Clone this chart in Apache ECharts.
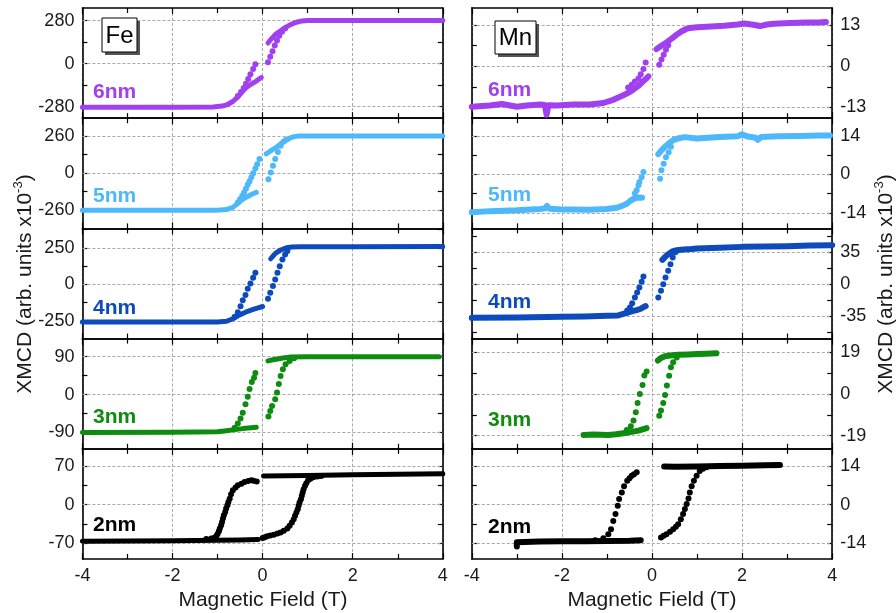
<!DOCTYPE html>
<html><head><meta charset="utf-8">
<script src="https://cdn.jsdelivr.net/npm/echarts@6/dist/echarts.min.js"></script>
<style>html,body{margin:0;padding:0;background:#fff}#c{width:896px;height:613px}</style>
</head><body><div id="c"></div>
<script>
// ---------- tick labels ----------
const xTicks = [-4, -2, 0, 2, 4];
const fe6Ticks = [-280, 0, 280], fe6Minor = [-140, 140];
const fe5Ticks = [-260, 0, 260], fe5Minor = [-130, 130];
const fe4Ticks = [-250, 0, 250], fe4Minor = [-125, 125, 375];
const fe3Ticks = [-90, 0, 90],   fe3Minor = [-45, 45];
const fe2Ticks = [-70, 0, 70],   fe2Minor = [-35, 35];
const mn6Ticks = [-13, 0, 13],   mn6Minor = [-6.5, 6.5];
const mn5Ticks = [-14, 0, 14],   mn5Minor = [-7, 7];
const mn4Ticks = [-35, 0, 35],   mn4Minor = [-52.5, -17.5, 17.5, 52.5];
const mn3Ticks = [-19, 0, 19],   mn3Minor = [-9.5, 9.5];
const mn2Ticks = [-14, 0, 14],   mn2Minor = [-7, 7];
const sampleNames = ['6nm', '5nm', '4nm', '3nm', '2nm'];

// ---------- Fe data (field T, XMCD x1e-3) ----------
const fe6_un = [[-4,-283],[-2,-283],[-1.1,-282],[-0.9,-276],[-0.78,-266],[-0.66,-246],[-0.55,-216],[-0.45,-182],[-0.36,-154],[-0.25,-132],[-0.14,-113],[-0.03,-90]];
const fe6_dn = [[-0.16,-3],[-0.21,-35],[-0.27,-68],[-0.32,-100],[-0.37,-130],[-0.42,-158],[-0.48,-185],[-0.55,-210]];
const fe6_dp = [[0.12,135],[0.16,150],[0.22,170],[0.3,195],[0.4,215],[0.5,235],[0.62,255],[0.75,270],[0.88,279],[1.0,282],[2,282],[4,282]];
const fe6_up = [[0.12,10],[0.17,45],[0.22,82],[0.27,118],[0.32,152],[0.37,182],[0.43,208],[0.5,230]];

const fe5_un = [[-4,-260],[-2,-260],[-1,-259],[-0.8,-255],[-0.66,-240],[-0.55,-212],[-0.45,-185],[-0.33,-163],[-0.24,-148],[-0.14,-135]];
const fe5_dn = [[-0.07,100],[-0.12,62],[-0.16,32],[-0.21,0],[-0.25,-28],[-0.29,-56],[-0.33,-82],[-0.37,-110],[-0.41,-135],[-0.45,-158],[-0.5,-182],[-0.55,-205]];
const fe5_dp = [[0.08,135],[0.15,150],[0.22,165],[0.3,180],[0.4,205],[0.5,228],[0.6,245],[0.7,256],[0.8,260],[2,260],[4,260]];
const fe5_up = [[0.13,-42],[0.18,5],[0.23,52],[0.28,100],[0.34,148],[0.40,192],[0.47,222],[0.53,235]];

const fe4_un = [[-4,-258],[-2,-258],[-1,-257],[-0.8,-252],[-0.66,-235],[-0.55,-215],[-0.44,-199],[-0.33,-184],[-0.21,-171],[-0.1,-160],[0.0,-151]];
const fe4_dn = [[-0.16,80],[-0.21,46],[-0.27,7],[-0.33,-30],[-0.38,-73],[-0.44,-108],[-0.49,-149],[-0.55,-190],[-0.62,-222]];
const fe4_dp = [[0.18,176],[0.24,198],[0.3,217],[0.4,236],[0.53,251],[0.65,257],[0.82,258],[2,258],[4,260]];
const fe4_up = [[0.12,-98],[0.17,-57],[0.23,-11],[0.28,34],[0.33,80],[0.38,125],[0.44,171],[0.5,205],[0.55,230]];

const fe3_un = [[-4,-90],[-2,-89.5],[-1,-88.5],[-0.8,-86],[-0.66,-84],[-0.44,-81],[-0.14,-78]];
const fe3_dn = [[-0.16,51],[-0.19,40],[-0.24,30],[-0.29,13],[-0.33,-5],[-0.38,-23],[-0.44,-43],[-0.49,-57],[-0.55,-69],[-0.62,-79]];
const fe3_dp = [[0.12,80],[0.2,82],[0.3,84],[0.45,87],[0.6,89],[1,90],[2,90],[3.92,90]];
const fe3_up = [[0.13,-52],[0.17,-39],[0.21,-27],[0.28,-11],[0.32,5],[0.36,25],[0.40,44],[0.45,60],[0.51,72],[0.6,80],[0.7,86]];

const fe2_un = [[-4,-66],[-3,-65.5],[-2,-65],[-1,-64],[-0.5,-63.5],[-0.1,-63]];
const fe2_dn = [[-0.13,42],[-0.2,43.5],[-0.25,44],[-0.32,43],[-0.40,41],[-0.47,38],[-0.55,35],[-0.6,31],[-0.66,26],[-0.70,19],[-0.73,11],[-0.76,5],[-0.78,-1],[-0.81,-7],[-0.83,-13],[-0.86,-19],[-0.88,-25],[-0.90,-31],[-0.92,-37],[-0.95,-43],[-0.97,-48],[-1.0,-53],[-1.03,-57],[-1.08,-60],[-1.14,-61],[-1.25,-62]];
const fe2_dp = [[0.02,52],[1,53],[2,54],[3,55],[4,56]];
const fe2_up = [[0.0,-60],[0.05,-58.5],[0.1,-57],[0.17,-55.5],[0.25,-54],[0.33,-52],[0.4,-50],[0.47,-47],[0.55,-43],[0.6,-38],[0.65,-32],[0.69,-26],[0.72,-20],[0.75,-14],[0.78,-8],[0.8,-2],[0.82,4],[0.85,10],[0.87,16],[0.89,22],[0.91,28],[0.94,34],[0.97,39],[1.01,44],[1.06,47],[1.13,49.5],[1.22,51],[1.3,52]];

// ---------- Mn data ----------
const mn6_un = [[-4,-12.8],[-3.6,-12.4],[-3.33,-11.9],[-3.0,-12.8],[-2.78,-12.4],[-2.48,-12.1],[-2.38,-12.2],[-2.34,-15.3],[-2.3,-12.3],[-2.11,-12.4],[-1.75,-12.1],[-1.38,-12.1],[-1.08,-11.6],[-0.86,-10.6],[-0.66,-9.3],[-0.53,-8.4],[-0.41,-7.3],[-0.3,-6.2],[-0.2,-4.8],[-0.12,-3.8],[-0.08,-3.2]];
const mn6_dn = [[-0.14,1.2],[-0.19,-0.9],[-0.25,-2.5],[-0.30,-3.9],[-0.38,-4.8],[-0.45,-5.8],[-0.53,-6.7]];
const mn6_dp = [[0.10,5.4],[0.2,6.4],[0.33,7.6],[0.45,8.9],[0.55,10.0],[0.65,11.0],[0.75,11.7],[0.84,12.1],[1.0,12.3],[1.21,12.5],[1.6,12.8],[1.9,13.2],[2.05,13.5],[2.25,13.1],[2.4,12.7],[2.55,13.2],[2.7,13.4],[3.06,13.7],[3.43,13.8],[3.7,13.8],[3.86,14.0]];
const mn6_up = [[0.16,0.5],[0.21,2.1],[0.26,3.6],[0.31,5.2],[0.36,6.6]];

const mn5_un = [[-4,-13.8],[-3.59,-13.4],[-3.0,-13.1],[-2.48,-12.6],[-2.38,-12.4],[-2.33,-11.5],[-2.28,-12.5],[-2.0,-12.8],[-1.75,-12.8],[-1.38,-12.9],[-1.01,-12.6],[-0.79,-12.2],[-0.65,-11.4],[-0.56,-10.7],[-0.48,-9.6],[-0.41,-8.9],[-0.34,-8.5],[-0.27,-8.4],[-0.22,-8.5]];
const mn5_dn = [[-0.19,0.85],[-0.23,-1.0],[-0.28,-2.8],[-0.30,-4.0],[-0.34,-5.8],[-0.38,-7.0],[-0.45,-9.3]];
const mn5_dp = [[0.14,7.4],[0.2,8.6],[0.29,10.1],[0.38,11.4],[0.47,12.5],[0.6,13.2],[0.73,13.6],[1.0,13.1],[1.5,13.6],[1.9,13.9],[2.0,14.6],[2.1,13.9],[2.3,13.4],[2.35,12.6],[2.42,13.6],[2.8,13.9],[3.3,14.0],[3.7,14.2],[3.95,14.2]];
const mn5_up = [[0.18,-1.6],[0.21,1.5],[0.26,3.9],[0.31,6.3],[0.37,8.1],[0.42,10.1]];

const mn4_un = [[-4,-37],[-3,-36.6],[-2,-35.9],[-1.5,-35.6],[-1,-34.8],[-0.75,-34.3],[-0.6,-32],[-0.53,-31.1],[-0.43,-29.5],[-0.34,-28.5],[-0.25,-27],[-0.2,-25.5],[-0.14,-24]];
const mn4_dn = [[-0.19,8.4],[-0.23,2.6],[-0.28,-3.6],[-0.33,-9.2],[-0.38,-14.6],[-0.44,-20.9],[-0.49,-25.6],[-0.55,-29]];
const mn4_dp = [[0.23,26.7],[0.3,30.5],[0.36,33],[0.45,36],[0.55,37.4],[0.7,38.2],[0.88,38.6],[1.0,39.2],[1.5,40],[2,41],[2.5,41.4],[3,41.8],[3.5,42.4],[4,42.9]];
const mn4_up = [[0.14,-14.6],[0.2,-7.3],[0.25,0],[0.3,7.3],[0.36,14.7],[0.41,22],[0.46,29.3],[0.52,35]];

const mn3_un = [[-1.52,-18.7],[-1.3,-18.5],[-0.97,-18.7],[-0.8,-18.4],[-0.6,-17.8],[-0.45,-17.3],[-0.3,-16.7],[-0.12,-15.6]];
const mn3_dn = [[-0.12,10.2],[-0.17,8.4],[-0.21,4.1],[-0.27,0],[-0.32,-4.1],[-0.36,-8.4],[-0.41,-12.1],[-0.47,-14.7],[-0.56,-16.4]];
const mn3_dp = [[0.13,15.2],[0.2,16.4],[0.29,17.2],[0.4,17.5],[0.58,17.8],[0.8,18.0],[1.0,18.2],[1.2,18.3],[1.43,18.5]];
const mn3_up = [[0.16,-9.9],[0.2,-7.6],[0.25,-4.1],[0.29,-0.5],[0.33,3.8],[0.38,8.3],[0.42,12.2],[0.47,14.4],[0.55,16.6]];

const mn2_un = [[-3.0,-15.2],[-3.0,-13.6],[-2.5,-13.4],[-2,-13.3],[-1.5,-13.3],[-1.0,-13.2],[-0.5,-13.1],[-0.25,-12.9]];
const mn2_dn = [[-0.34,11.7],[-0.4,11.0],[-0.45,10.4],[-0.5,9.5],[-0.55,8.6],[-0.62,6.6],[-0.67,4.4],[-0.73,2.0],[-0.76,-0.4],[-0.81,-3.4],[-0.86,-5.9],[-0.91,-8.9],[-0.97,-10.7],[-1.08,-12.2],[-1.26,-12.9]];
const mn2_dp = [[0.27,13.8],[0.5,13.7],[1,13.8],[1.5,14.0],[2,14.1],[2.5,14.2],[2.84,14.3]];
const mn2_up = [[0.2,-11.9],[0.26,-11.3],[0.32,-10.7],[0.4,-9.8],[0.47,-8.9],[0.53,-8.0],[0.58,-7.1],[0.64,-5.3],[0.69,-3.4],[0.73,-1.6],[0.77,0.2],[0.81,2.2],[0.84,4.4],[0.88,6.6],[0.93,8.6],[0.99,10.4],[1.06,12.2],[1.13,13.0],[1.21,13.5]];

// ---------- styling ----------
const FONT = '"Liberation Sans", Arial, sans-serif';
const COLORS = ['#a040f0', '#4db8fc', '#0d4bbd', '#0e8c10', '#000000'];
const AX = '#000';
const GRIDC = '#a9a9a9';

const panels = [
  {col:0,row:0,band:[fe6_un,fe6_dp],dots:[fe6_dn,fe6_up],range:[-355,363],ticks:fe6Ticks,minor:fe6Minor,labY:92},
  {col:0,row:1,band:[fe5_un,fe5_dp],dots:[fe5_dn,fe5_up],range:[-387,385],ticks:fe5Ticks,minor:fe5Minor,labY:196},
  {col:0,row:2,band:[fe4_un,fe4_dp],dots:[fe4_dn,fe4_up],range:[-371,384],ticks:fe4Ticks,minor:fe4Minor,labY:308},
  {col:0,row:3,band:[fe3_un,fe3_dp],dots:[fe3_dn,fe3_up],range:[-129,133],ticks:fe3Ticks,minor:fe3Minor,labY:417},
  {col:0,row:4,band:[fe2_un,fe2_dp],dots:[fe2_dn,fe2_up],range:[-98,101],ticks:fe2Ticks,minor:fe2Minor,labY:525},
  {col:1,row:0,band:[mn6_un,mn6_dp],dots:[mn6_dn,mn6_up],range:[-16.4,18.4],ticks:mn6Ticks,minor:mn6Minor,labY:90},
  {col:1,row:1,band:[mn5_un,mn5_dp],dots:[mn5_dn,mn5_up],range:[-19.7,20.5],ticks:mn5Ticks,minor:mn5Minor,labY:195},
  {col:1,row:2,band:[mn4_un,mn4_dp],dots:[mn4_dn,mn4_up],range:[-59.8,61.3],ticks:mn4Ticks,minor:mn4Minor,labY:302},
  {col:1,row:3,band:[mn3_un,mn3_dp],dots:[mn3_dn,mn3_up],range:[-25,25.2],ticks:mn3Ticks,minor:mn3Minor,labY:420},
  {col:1,row:4,band:[mn2_un,mn2_dp],dots:[mn2_dn,mn2_up],range:[-19.7,20.2],ticks:mn2Ticks,minor:mn2Minor,labY:527}
];

const GX = [82.4, 471.8], GW = 360.4, GT = 8, GH = 110.2;
const grids = [], xAxes = [], yAxes = [], series = [], graphics = [];
const axLine = {show:true, onZero:false, lineStyle:{color:AX, width:1.6}};
const tickStyle = {color:AX, width:1.2};

panels.forEach((p, i) => {
  const left = GX[p.col], top = GT + p.row * GH;
  const color = COLORS[p.row];
  grids.push({left:left, top:top, width:GW, height:GH, outerBoundsMode:'none', containLabel:false});
  const bottomRow = p.row === 4;
  xAxes.push({type:'value', gridIndex:i, position:'bottom', min:-4, max:4, interval:2,
    axisLine:axLine, axisTick:{show:true, inside:true, length:6, lineStyle:tickStyle},
    minorTick:{show:true, splitNumber:2, length:5, lineStyle:tickStyle},
    axisLabel:{show:bottomRow, fontSize:18, color:'#1a1a1a', margin:8, fontFamily:FONT,
      customValues:xTicks, showMinLabel:true, showMaxLabel:true},
    splitLine:{show:true, lineStyle:{color:GRIDC, type:[3,2], width:1}}});
  xAxes.push({type:'value', gridIndex:i, position:'top', min:-4, max:4, interval:2,
    axisLine:axLine, axisTick:{show:true, inside:true, length:6, lineStyle:tickStyle},
    minorTick:{show:true, splitNumber:2, length:5, lineStyle:tickStyle},
    axisLabel:{show:false}, splitLine:{show:false}});
  const allTicks = p.ticks.concat(p.minor);
  const mkY = (pos, showLab) => ({type:'value', gridIndex:i, position:pos, min:p.range[0], max:p.range[1],
    axisLine:axLine, axisTick:{show:true, inside:true, length:5, lineStyle:tickStyle, customValues:allTicks},
    axisLabel:{show:showLab, customValues:p.ticks, fontSize:18, color:'#1a1a1a', margin:8, fontFamily:FONT},
    splitLine:{show:false}});
  yAxes.push(mkY('left', p.col === 0));
  yAxes.push(mkY('right', p.col === 1));

  p.band.forEach((d, k) => {
    const s = {type:'line', xAxisIndex:2*i, yAxisIndex:2*i, data:d, symbol:'none', showSymbol:false,
      lineStyle:{color:color, width:p.col ? 6 : 5, cap:'round', join:'round', opacity:1}, itemStyle:{color:color},
      silent:true, z:3, clip:true};
    if (k === 0) {
      s.markLine = {silent:true, symbol:['none','none'], z:1, animation:false, label:{show:false},
        lineStyle:{color:GRIDC, type:[3,2], width:1}, emphasis:{disabled:true},
        data:p.ticks.map(v => ({yAxis:v}))};
    }
    series.push(s);
  });
  p.dots.forEach(d => {
    series.push({type:'scatter', xAxisIndex:2*i, yAxisIndex:2*i, data:d, symbol:'circle', symbolSize:6,
      itemStyle:{color:color, opacity:1}, silent:true, z:3});
  });

  graphics.push({type:'text', x: p.col ? 488 : 93, y: p.labY,
    style:{text: sampleNames[p.row], fill: color, font: 'bold 21px ' + FONT, align:'left', verticalAlign:'middle'}});
});

// element boxes
[['Fe', 102, 18, 35, 34], ['Mn', 495, 21, 41, 33]].forEach(b => {
  graphics.push({type:'rect', shape:{x:b[1]+3, y:b[2]+3, width:b[3], height:b[4]}, style:{fill:'#555'}, z:10});
  graphics.push({type:'rect', shape:{x:b[1], y:b[2], width:b[3], height:b[4]}, style:{fill:'#fff', stroke:'#000', lineWidth:1}, z:11});
  graphics.push({type:'text', x:b[1]+b[3]/2, y:b[2]+b[4]/2+1, z:12,
    style:{text:b[0], fill:'#000', font:'24px ' + FONT, align:'center', verticalAlign:'middle'}});
});

// axis titles
const titleRich = {
  a:{fontSize:21, fontFamily:FONT, fill:'#1a1a1a', lineHeight:26},
  s:{fontSize:13, fontFamily:FONT, fill:'#1a1a1a', verticalAlign:'top', lineHeight:26}
};
[25, 886].forEach(x => {
  graphics.push({type:'text', x:x, y:284, rotation:Math.PI/2,
    style:{text:'{a|XMCD (arb. units x10}{s|-3}{a|)}', rich:titleRich, align:'center', verticalAlign:'middle'}});
});
[263, 652].forEach(x => {
  graphics.push({type:'text', x:x, y:600,
    style:{text:'Magnetic Field (T)', fill:'#1a1a1a', font:'21px ' + FONT, align:'center', verticalAlign:'middle'}});
});

const chart = echarts.init(document.getElementById('c'), null, {renderer:'canvas'});
chart.setOption({
  animation:false,
  backgroundColor:'#fff',
  grid:grids, xAxis:xAxes, yAxis:yAxes, series:series, graphic:graphics
});
</script></body></html>
